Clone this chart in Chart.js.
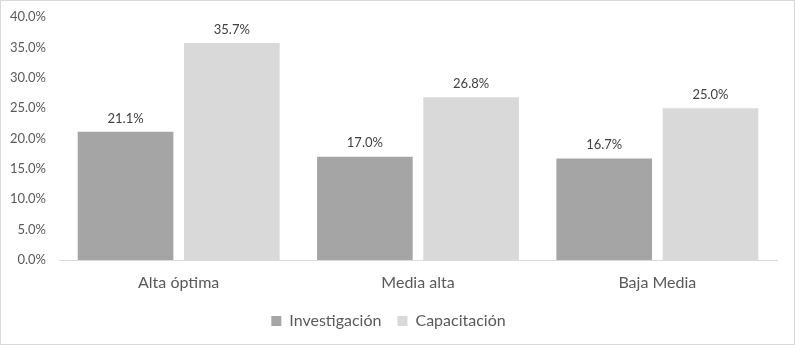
<!DOCTYPE html>
<html>
<head>
<meta charset="utf-8">
<script src="https://cdn.jsdelivr.net/npm/chart.js@4"></script>
<style>
html,body{margin:0;padding:0;background:#fff;}
#wrap{width:795px;height:345px;position:relative;}
</style>
</head>
<body>
<div id="wrap"><canvas id="c" width="795" height="345"></canvas></div>
<script>
const categories = ["Alta óptima", "Media alta", "Baja Media"];
const investigacion = [21.1, 17.0, 16.7];
const capacitacion = [35.7, 26.8, 25.0];
const seriesNames = ["Investigación", "Capacitación"];

const FONT = "Lato, 'Open Sans', sans-serif";
const TXT = "#595959";

const labelsPlugin = {
  id: 'valLabels',
  afterDatasetsDraw(chart) {
    const ctx = chart.ctx;
    ctx.save();
    ctx.font = "13px " + FONT;
    ctx.fillStyle = "#404040";
    ctx.textAlign = "center";
    ctx.textBaseline = "bottom";
    chart.data.datasets.forEach((ds, i) => {
      const meta = chart.getDatasetMeta(i);
      meta.data.forEach((el, j) => {
        ctx.fillText(ds.data[j].toFixed(1) + "%", el.x, el.y - 7);
      });
    });
    ctx.restore();
  }
};
const borderPlugin = {
  id: 'outerBorder',
  afterDraw(chart) {
    const ctx = chart.ctx;
    ctx.save();
    ctx.strokeStyle = "#d9d9d9";
    ctx.lineWidth = 1;
    ctx.strokeRect(0.5, 0.5, chart.width - 1, chart.height - 1);
    ctx.restore();
  }
};

new Chart(document.getElementById('c'), {
  type: 'bar',
  data: {
    labels: categories,
    datasets: [
      { label: seriesNames[0], data: investigacion, backgroundColor: "#a5a5a5", categoryPercentage: 0.888, barPercentage: 0.9 },
      { label: seriesNames[1], data: capacitacion, backgroundColor: "#d9d9d9", categoryPercentage: 0.888, barPercentage: 0.9 }
    ]
  },
  options: {
    responsive: false,
    animation: false,
    devicePixelRatio: 1,
    layout: { padding: { top: 17, right: 18, left: 0, bottom: 6 } },
    scales: {
      y: {
        min: 0, max: 40,
        ticks: { stepSize: 5, padding: 13, color: TXT, font: { size: 13, family: FONT },
          callback: v => v.toFixed(1) + "%" },
        grid: { display: false, drawTicks: false },
        border: { display: false },
        afterFit(s) { s.width = 59; s.paddingTop = 0; s.paddingBottom = 0; }
      },
      x: {
        ticks: { color: TXT, padding: 13, font: { size: 16, family: FONT } },
        grid: { display: false, drawTicks: false },
        border: { display: true, color: "#d9d9d9", width: 1 },
        afterFit(s) { s.height = 37; s.paddingLeft = 0; s.paddingRight = 0; }
      }
    },
    plugins: {
      legend: {
        position: 'bottom',
        labels: { color: TXT, font: { size: 16, family: FONT }, boxWidth: 10, boxHeight: 10, padding: 16 }
      },
      tooltip: { enabled: false }
    }
  },
  plugins: [labelsPlugin, borderPlugin]
});
</script>
</body>
</html>
